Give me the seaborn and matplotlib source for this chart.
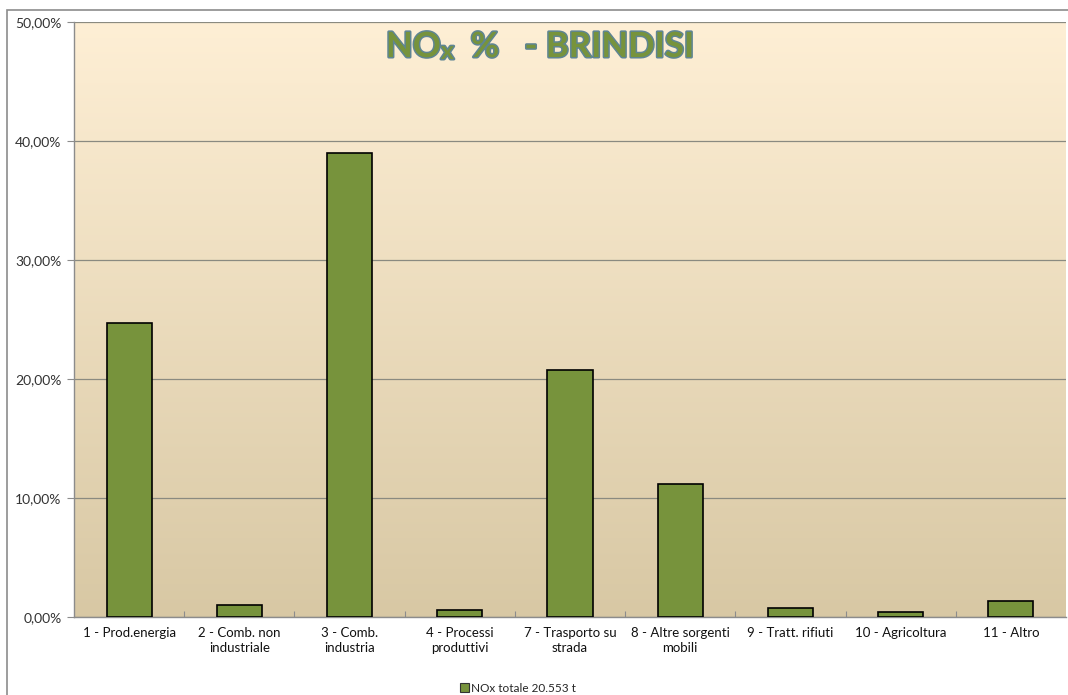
import numpy as np
import pandas as pd
import matplotlib.pyplot as plt
import matplotlib.patheffects as pe
from matplotlib.patches import Rectangle, Patch
from matplotlib.ticker import FuncFormatter, FixedLocator
import seaborn as sns

# data
categories = ['1 - Prod.energia', '2 - Comb. non\nindustriale', '3 - Comb.\nindustria',
              '4 - Processi\nproduttivi', '7 - Trasporto su\nstrada', '8 - Altre sorgenti\nmobili',
              '9 - Tratt. rifiuti', '10 - Agricoltura', '11 - Altro']
nox_pct = [24.7, 1.05, 39.0, 0.6, 20.75, 11.2, 0.75, 0.4, 1.35]
legend_label = 'NOx totale 20.553 t'

df = pd.DataFrame({'categoria': categories, 'pct': nox_pct})

sns.set_style('white')
plt.rcParams['font.family'] = ['Lato', 'DejaVu Sans']

fig = plt.figure(figsize=(10.68, 6.95), dpi=100)
ax = fig.add_axes([74 / 1068, 1 - 617 / 695, (1066 - 74) / 1068, (617 - 22) / 695])

# outer chart border
fig.patches.append(Rectangle((7 / 1068, -0.05), 1.1, 1 - 10 / 695 + 0.05,
                             transform=fig.transFigure, fill=False,
                             edgecolor='#8c8c8c', linewidth=1.2, zorder=0))

# background gradient of the plot area
grad = np.linspace(0, 1, 256).reshape(-1, 1)
top = np.array([0.996, 0.937, 0.835])
bot = np.array([0.847, 0.784, 0.643])
img = top[None, None, :] * (1 - grad[:, :, None]) + bot[None, None, :] * grad[:, :, None]
ax.imshow(img, extent=[0, 1, 0, 1], transform=ax.transAxes, aspect='auto', zorder=0)

sns.barplot(data=df, x='categoria', y='pct', color='#77933C', saturation=1,
            edgecolor='black', linewidth=1.2, width=0.41, ax=ax, zorder=3)

ax.set_xlim(-0.5, len(categories) - 0.5)
ax.set_ylim(0, 50)
ax.set_yticks(np.arange(0, 51, 10))
ax.yaxis.set_major_formatter(FuncFormatter(lambda v, p: f'{v:.2f}%'.replace('.', ',')))
ax.grid(axis='y', color='#8a8a80', linewidth=0.9, zorder=1)
ax.set_axisbelow(True)
ax.set_xlabel('')
ax.set_ylabel('')

for s in ['top', 'right']:
    ax.spines[s].set_visible(False)
for s in ['left', 'bottom']:
    ax.spines[s].set_color('#8c8c8c')
    ax.spines[s].set_linewidth(1.0)

ax.tick_params(axis='y', labelsize=10, length=5, width=0.8, direction='out',
               left=True, pad=4, colors='#8c8c8c', labelcolor='#333333')
ax.tick_params(axis='x', labelsize=9.5, labelcolor='#111111', length=0, pad=7)
ax.xaxis.set_minor_locator(FixedLocator(np.arange(0.5, len(categories) - 1, 1)))
ax.tick_params(axis='x', which='minor', length=4, width=0.8, color='#8c8c8c',
               direction='in', bottom=True)
for lab in ax.get_xticklabels():
    lab.set_linespacing(1.3)

# title with small "x"
outline = [pe.withStroke(linewidth=2.2, foreground='#5f8593')]
tkw = dict(fontweight='bold', color='#77933C', path_effects=outline,
           family=['Lato', 'DejaVu Sans'])
t1 = fig.text(386 / 1068, 1 - 57 / 695, 'NO', fontsize=25, ha='left', va='baseline', **tkw)
t2 = ax.annotate('x', xy=(1, 0), xycoords=t1, fontsize=18, ha='left', va='bottom',
                 annotation_clip=False, **tkw)
ax.annotate('  %   - BRINDISI', xy=(1, 0), xycoords=t2, fontsize=25, ha='left', va='bottom',
            annotation_clip=False, **tkw)

handle = Patch(facecolor='#77933C', edgecolor='#333333', linewidth=0.8)
fig.legend([handle], [legend_label], loc='center', bbox_to_anchor=(518 / 1068, 1 - 688 / 695),
           frameon=False, fontsize=8.5, handlelength=0.8, handleheight=0.8,
           handletextpad=0.2, borderpad=0)

fig.savefig('out.png', dpi=100)
